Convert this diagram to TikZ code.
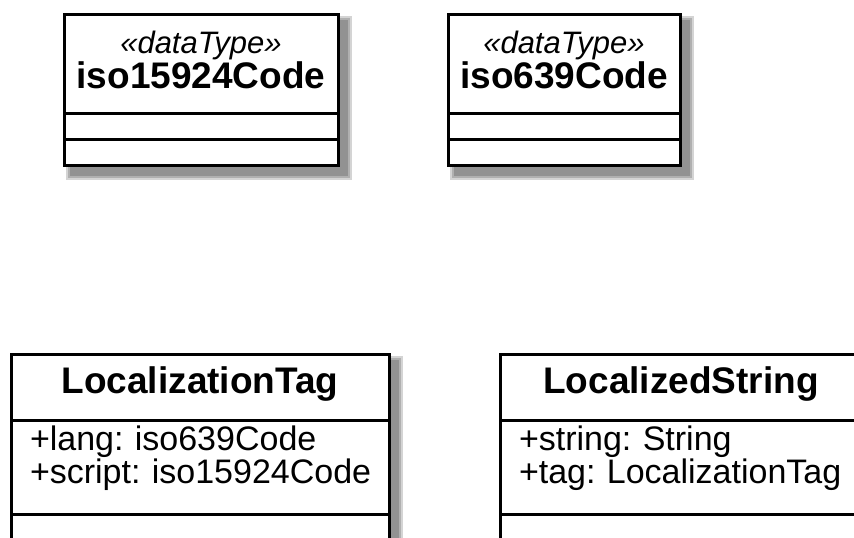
\documentclass[tikz,border=0pt]{standalone}
\usepackage{fontspec}
\setmainfont{Liberation Sans}
\usetikzlibrary{positioning,calc,backgrounds}
\frenchspacing
\tikzset{
classPart/.style={draw=black, line width=3pt, fill=white, inner sep=0pt, outer sep=0pt},
emptyPart/.style={classPart, minimum height=#1},
emptyPart/.default=26pt,
stereoHead/.style={classPart, align=center, text height=39pt, text depth=60.5pt,
    font=\fontsize{37}{35}\selectfont\bfseries},
classHead/.style={classPart, align=center, text height=39pt, text depth=27pt,
    font=\fontsize{37}{35}\selectfont\bfseries},
classAttr/.style={classPart, align=left, inner xsep=19pt, text height=30pt, text depth=64pt,
    font=\fontsize{34}{33}\selectfont}
}
\newcommand{\stereo}[1]{{\fontsize{31}{35}\selectfont\mdseries\itshape «#1»}}

\begin{document}
\begin{tikzpicture}[x=1pt,y=-1pt]
    \useasboundingbox (0,0) rectangle (854,538);
    % data types
    \node[stereoHead, text width=274pt, anchor=north west] (scriptHead) at (64,14)
        {\stereo{dataType}\\iso15924Code};
    \node[emptyPart, minimum width=274pt, below=0pt of scriptHead] (scriptAttr) {};
    \node[emptyPart, minimum width=274pt, below=0pt of scriptAttr] (scriptOps) {};
    \node[stereoHead, text width=232pt, anchor=north west] (langHead) at (448,14)
        {\stereo{dataType}\\iso639Code};
    \node[emptyPart, minimum width=232pt, below=0pt of langHead] (langAttr) {};
    \node[emptyPart, minimum width=232pt, below=0pt of langAttr] (langOps) {};
    % classes
    \node[classHead, text width=378pt, anchor=north west] (tagHead) at (11,354) {LocalizationTag};
    \node[classAttr, text width=340pt, below=0pt of tagHead] (tagAttr)
        {\mbox{+lang: iso639Code}\\\mbox{+script: iso15924Code}};
    \node[emptyPart=30pt, minimum width=378pt, below=0pt of tagAttr] (tagOps) {};
    \node[classHead, text width=362pt, anchor=north west] (strHead) at (500,354) {LocalizedString};
    \node[classAttr, text width=324pt, below=0pt of strHead] (strAttr)
        {\mbox{+string: String}\\\mbox{+tag: LocalizationTag}};
    \node[emptyPart=30pt, minimum width=362pt, below=0pt of strAttr] (strOps) {};
    % shadows
    \begin{scope}[on background layer]
    \foreach \a/\b in {scriptHead/scriptOps, langHead/langOps, tagHead/tagOps, strHead/strOps}
        \foreach \s in {6,4,2}
            \fill[black, opacity=.17] ($(\a.north west)+(8-\s,8-\s)$) rectangle ($(\b.south east)+(8+\s,8+\s)$);
    \end{scope}
\end{tikzpicture}
\end{document}
